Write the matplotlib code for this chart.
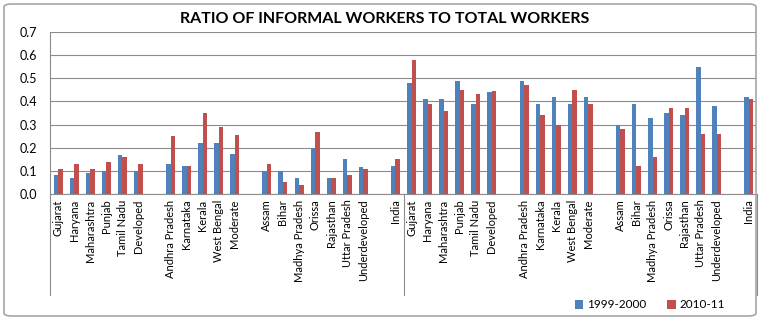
import matplotlib
matplotlib.use("Agg")
import matplotlib.pyplot as plt
from matplotlib.patches import FancyBboxPatch
import matplotlib.transforms as mtransforms
import numpy as np

plt.rcParams['font.family'] = ['Lato', 'DejaVu Sans']

states = ["Gujarat", "Haryana", "Maharashtra", "Punjab", "Tamil Nadu", "Developed", "",
          "Andhra Pradesh", "Karnataka", "Kerala", "West Bengal", "Moderate", "",
          "Assam", "Bihar", "Madhya Pradesh", "Orissa", "Rajasthan", "Uttar Pradesh",
          "Underdeveloped", "", "India"]

rural_1999 = [0.08, 0.07, 0.09, 0.10, 0.17, 0.10, None,
              0.13, 0.12, 0.22, 0.22, 0.175, None,
              0.10, 0.10, 0.07, 0.20, 0.07, 0.15, 0.115, None, 0.12]
rural_2010 = [0.11, 0.13, 0.11, 0.14, 0.16, 0.13, None,
              0.25, 0.12, 0.35, 0.29, 0.253, None,
              0.13, 0.05, 0.04, 0.27, 0.07, 0.08, 0.107, None, 0.15]
urban_1999 = [0.48, 0.41, 0.41, 0.49, 0.39, 0.44, None,
              0.49, 0.39, 0.42, 0.39, 0.42, None,
              0.30, 0.39, 0.33, 0.35, 0.34, 0.55, 0.38, None, 0.42]
urban_2010 = [0.58, 0.39, 0.36, 0.45, 0.43, 0.445, None,
              0.47, 0.34, 0.30, 0.45, 0.39, None,
              0.28, 0.12, 0.16, 0.37, 0.37, 0.26, 0.26, None, 0.41]

series_labels = ["1999-2000", "2010-11"]
colors = ["#4F81BD", "#C0504D"]

labels = states + states
v1 = rural_1999 + urban_1999
v2 = rural_2010 + urban_2010
n = len(labels)
x = np.arange(n)
idx = [i for i in range(n) if v1[i] is not None]

W, H = 761, 319
fig = plt.figure(figsize=(W / 100, H / 100), dpi=100)
ax = fig.add_axes([50 / W, (H - 194) / H, 707 / W, 162 / H])

bw = 0.28
ax.bar(x[idx] - bw / 2, [v1[i] for i in idx], width=bw, color=colors[0],
       label=series_labels[0], zorder=3, linewidth=0)
ax.bar(x[idx] + bw / 2, [v2[i] for i in idx], width=bw, color=colors[1],
       label=series_labels[1], zorder=3, linewidth=0)

ax.set_xlim(-0.5, n - 0.5)
ax.set_ylim(0, 0.7)
ax.set_yticks(np.arange(0, 0.71, 0.1))
ax.set_yticklabels([f"{v:.1f}" for v in np.arange(0, 0.71, 0.1)], fontsize=9)
ax.tick_params(axis='y', length=0, pad=9)
ax.set_xticks(x[idx])
ax.set_xticklabels([labels[i] for i in idx], rotation=90, fontsize=8, va='top')
ax.tick_params(axis='x', length=0, pad=4)
ax.yaxis.grid(True, color="#8c8c8c", linewidth=0.8, zorder=0)
for s in ["top", "right"]:
    ax.spines[s].set_visible(False)
ax.spines["left"].set_color("#8c8c8c")
ax.spines["bottom"].set_color("#8c8c8c")

trans = mtransforms.blended_transform_factory(ax.transData, ax.transAxes)
ybot = (194 - 295) / 162
for xv in [-0.5, n / 2 - 0.5, n - 0.5]:
    ax.plot([xv, xv], [0, ybot], transform=trans, color="#8c8c8c",
            linewidth=0.8, clip_on=False)

fig.text(385 / W, 1 - 19 / H, "RATIO OF INFORMAL WORKERS TO TOTAL WORKERS",
         ha='center', va='center', fontsize=11.5, fontweight='bold')

leg = fig.legend(loc='center', bbox_to_anchor=(650 / W, 1 - 305 / H), ncol=2,
                 frameon=False, fontsize=8.5, handlelength=0.7, handleheight=0.7,
                 handletextpad=0.3, columnspacing=1.8)

border = FancyBboxPatch((4 / W, 3 / H), (W - 9) / W, (H - 7) / H,
                        boxstyle="round,pad=0,rounding_size=0.01",
                        transform=fig.transFigure, fill=False,
                        edgecolor="#a6a6a6", linewidth=1.2)
fig.patches.append(border)

fig.savefig("out.png", dpi=100)
